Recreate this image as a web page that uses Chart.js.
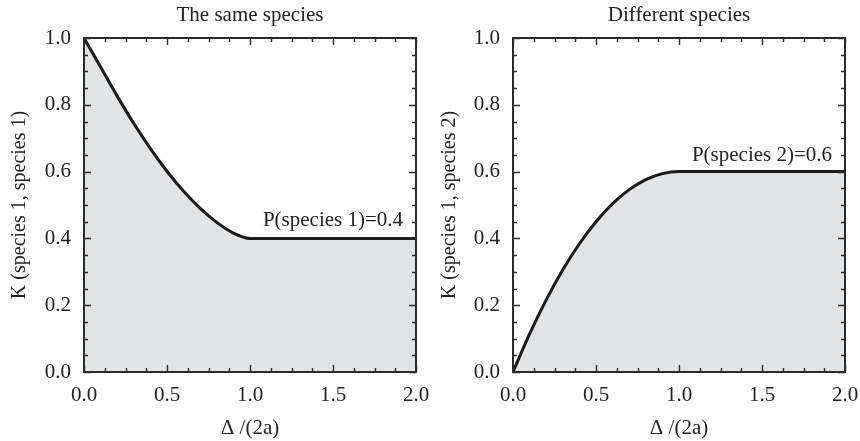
<!DOCTYPE html>
<html><head><meta charset="utf-8">
<script src="https://cdn.jsdelivr.net/npm/chart.js@4.4.1/dist/chart.umd.min.js"></script>
<style>
html,body{margin:0;padding:0;background:#fff;}
#wrap{position:relative;width:860px;height:441px;}
.c{position:absolute;top:0;width:430px;height:441px;}
</style>
</head><body>
<div id="wrap">
  <div class="c" style="left:0"><canvas id="c1" width="430" height="441"></canvas></div>
  <div class="c" style="left:430px"><canvas id="c2" width="430" height="441"></canvas></div>
</div>
<script>
// ---- data ----
const deltaOver2a = [0, 0.1, 0.2, 0.3, 0.4, 0.5, 0.6, 0.7, 0.8, 0.9, 1.0, 2.0];
const kSameSpecies = [1.0, 0.913, 0.826, 0.744, 0.669, 0.601, 0.541, 0.49, 0.448, 0.416, 0.4, 0.4];
const kDifferentSpecies = [0, 0.114, 0.216, 0.306, 0.384, 0.45, 0.504, 0.546, 0.576, 0.594, 0.6, 0.6];
const xTickLabels = ['0.0', '0.5', '1.0', '1.5', '2.0'];
const yTickLabels = ['0.0', '0.2', '0.4', '0.6', '0.8', '1.0'];
const panelTitles = ['The same species', 'Different species'];
const yAxisTitles = ['K (species 1, species 1)', 'K (species 1, species 2)'];
const xAxisTitle = 'Δ /(2a)';
const annotationTexts = ['P(species 1)=0.4', 'P(species 2)=0.6'];

// ---- styling ----
Chart.defaults.font.family = "'Liberation Serif', 'Times New Roman', serif";
Chart.defaults.font.size = 21;
Chart.defaults.color = '#222';
const FRAME = '#2b2b2b';
const FILL = '#e2e3e5';
const LINE = '#1a1a1a';

function isLabel(v, list) {
  return list.some(s => Math.abs(parseFloat(s) - v) < 1e-6);
}

const framePlugin = {
  id: 'frame',
  afterDatasetsDraw(chart, args, opts) {
    const {ctx, chartArea: a, scales: {x, y}} = chart;
    ctx.save();
    ctx.strokeStyle = FRAME;
    ctx.lineWidth = 1.4;
    ctx.beginPath();
    x.ticks.forEach(t => {
      const px = Math.round(x.getPixelForValue(t.value)) + 0.5;
      const len = isLabel(t.value, xTickLabels) ? 7 : 4;
      ctx.moveTo(px, a.bottom); ctx.lineTo(px, a.bottom - len);
      ctx.moveTo(px, a.top); ctx.lineTo(px, a.top + len);
    });
    y.ticks.forEach(t => {
      const py = Math.round(y.getPixelForValue(t.value)) + 0.5;
      const len = isLabel(t.value, yTickLabels) ? 7 : 4;
      ctx.moveTo(a.left, py); ctx.lineTo(a.left + len, py);
      ctx.moveTo(a.right, py); ctx.lineTo(a.right - len, py);
    });
    ctx.stroke();
    ctx.lineWidth = 2;
    ctx.strokeRect(a.left, a.top, a.right - a.left, a.bottom - a.top);
    // annotation
    ctx.fillStyle = '#222';
    ctx.font = "21px 'Liberation Serif', serif";
    ctx.textAlign = 'center';
    ctx.textBaseline = 'middle';
    ctx.fillText(opts.text, x.getPixelForValue(opts.atX), y.getPixelForValue(opts.atY));
    ctx.restore();
  }
};

function makePanel(id, idx, kValues, annX, annY, yWidth, padRight) {
  const pts = deltaOver2a.map((d, i) => ({x: d, y: kValues[i]}));
  return new Chart(document.getElementById(id), {
    type: 'scatter',
    data: {
      datasets: [{
        data: pts,
        showLine: true,
        fill: 'origin',
        backgroundColor: FILL,
        borderColor: LINE,
        borderWidth: 3,
        pointRadius: 0,
        cubicInterpolationMode: 'monotone',
        clip: 0
      }]
    },
    options: {
      responsive: false,
      animation: false,
      devicePixelRatio: 1,
      layout: {padding: {left: 0, right: padRight, top: 0, bottom: 0}},
      plugins: {
        legend: {display: false},
        tooltip: {enabled: false},
        title: {
          display: true, text: panelTitles[idx], fullSize: false,
          font: {size: 21, weight: 'normal'}, color: '#222',
          padding: {top: 3, bottom: 9.8}
        },
        frame: {text: annotationTexts[idx], atX: annX, atY: annY}
      },
      scales: {
        x: {
          type: 'linear', min: 0, max: 2,
          grid: {display: false, drawTicks: false},
          border: {display: false},
          ticks: {
            stepSize: 0.125, autoSkip: false, maxRotation: 0, padding: 11,
            callback: v => { const s = v.toFixed(1); return isLabel(v, xTickLabels) ? s : ''; }
          },
          title: {display: true, text: xAxisTitle, font: {size: 21}, padding: {top: 0, bottom: 0}},
          afterFit: s => { s.height = 69; s.paddingLeft = 0; s.paddingRight = 0; }
        },
        y: {
          type: 'linear', min: 0, max: 1,
          grid: {display: false, drawTicks: false},
          border: {display: false},
          ticks: {
            stepSize: 0.05, autoSkip: false, padding: 13,
            callback: v => { const s = v.toFixed(1); return isLabel(v, yTickLabels) ? s : ''; }
          },
          title: {display: true, text: yAxisTitles[idx], font: {size: 20}, padding: {top: 8, bottom: 0}},
          afterFit: s => { s.width = yWidth; s.paddingTop = 0; s.paddingBottom = 0; }
        }
      }
    },
    plugins: [framePlugin]
  });
}

makePanel('c1', 0, kSameSpecies, 1.5, 0.455, 84, 14);
makePanel('c2', 1, kDifferentSpecies, 1.5, 0.648, 83, 15);
</script>
</body></html>
